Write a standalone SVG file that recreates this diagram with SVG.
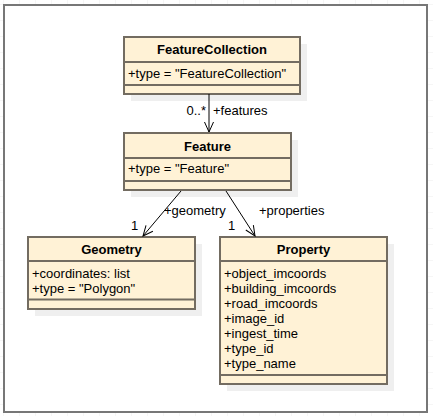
<svg xmlns="http://www.w3.org/2000/svg" width="433" height="416" viewBox="0 0 433 416">
<defs>
<pattern id="grid" width="16" height="16" patternUnits="userSpaceOnUse" x="4" y="5">
<path d="M16 0V16M0 16H16" fill="none" stroke="#ececec" stroke-width="1"/>
</pattern>
<marker id="open" viewBox="0 0 12 12" refX="11" refY="6" markerWidth="12" markerHeight="12" markerUnits="userSpaceOnUse" orient="auto">
<path d="M1 1.5L11 6L1 10.5" fill="none" stroke="#000" stroke-width="1"/>
</marker>
</defs>
<style>
.sh{fill:#efefef}
.box{fill:#fff2d6;stroke:#736c61;stroke-width:2}
.ln{stroke:#736c61;stroke-width:2}
.t{font-family:"Liberation Sans",Arial,sans-serif;font-size:13px;fill:#000}
.b{font-weight:bold;text-anchor:middle}
.c{stroke:#000;stroke-width:1;fill:none}
</style>
<rect x="0" y="0" width="433" height="416" fill="#fff"/>
<rect x="0" y="0" width="433" height="416" fill="url(#grid)"/>
<rect x="4" y="5" width="423" height="407" fill="#fff" stroke="#777" stroke-width="2"/>

<g id="FeatureCollection">
<rect class="sh" x="131" y="44" width="176" height="57"/>
<rect class="box" x="124" y="37" width="176" height="57"/>
<line class="ln" x1="124" y1="62" x2="300" y2="62"/>
<line class="ln" x1="124" y1="85" x2="300" y2="85"/>
<text class="t b" x="212" y="54">FeatureCollection</text>
<text class="t" x="128" y="77.5">+type = "FeatureCollection"</text>
</g>

<g id="Feature">
<rect class="sh" x="131" y="140" width="167" height="57"/>
<rect class="box" x="124" y="133" width="167" height="57"/>
<line class="ln" x1="124" y1="158" x2="291" y2="158"/>
<line class="ln" x1="124" y1="181" x2="291" y2="181"/>
<text class="t b" x="207.5" y="150.5">Feature</text>
<text class="t" x="128" y="173">+type = "Feature"</text>
</g>

<g id="Geometry">
<rect class="sh" x="35" y="244" width="167" height="72"/>
<rect class="box" x="28" y="237" width="167" height="72"/>
<line class="ln" x1="28" y1="261" x2="195" y2="261"/>
<line class="ln" x1="28" y1="299.5" x2="195" y2="299.5"/>
<text class="t b" x="111.5" y="254">Geometry</text>
<text class="t" x="32" y="277.5">+coordinates: list</text>
<text class="t" x="32" y="292.5">+type = "Polygon"</text>
</g>

<g id="Property">
<rect class="sh" x="227" y="244" width="167" height="147"/>
<rect class="box" x="220" y="237" width="167" height="147"/>
<line class="ln" x1="220" y1="261" x2="387" y2="261"/>
<line class="ln" x1="220" y1="375" x2="387" y2="375"/>
<text class="t b" x="303.5" y="254">Property</text>
<text class="t" x="224" y="277.5">+object_imcoords</text>
<text class="t" x="224" y="292.5">+building_imcoords</text>
<text class="t" x="224" y="307.5">+road_imcoords</text>
<text class="t" x="224" y="322.5">+image_id</text>
<text class="t" x="224" y="337.5">+ingest_time</text>
<text class="t" x="224" y="352.5">+type_id</text>
<text class="t" x="224" y="367.5">+type_name</text>
</g>

<g id="connectors">
<line class="c" x1="209" y1="94" x2="209" y2="132" marker-end="url(#open)"/>
<text class="t" x="206" y="115" text-anchor="end">0..*</text>
<text class="t" x="213" y="115">+features</text>
<line class="c" x1="181" y1="191" x2="143" y2="236" marker-end="url(#open)"/>
<text class="t" x="164" y="215">+geometry</text>
<text class="t" x="131" y="230">1</text>
<line class="c" x1="226" y1="191" x2="255" y2="236" marker-end="url(#open)"/>
<text class="t" x="259" y="215">+properties</text>
<text class="t" x="228" y="230">1</text>
</g>
</svg>
